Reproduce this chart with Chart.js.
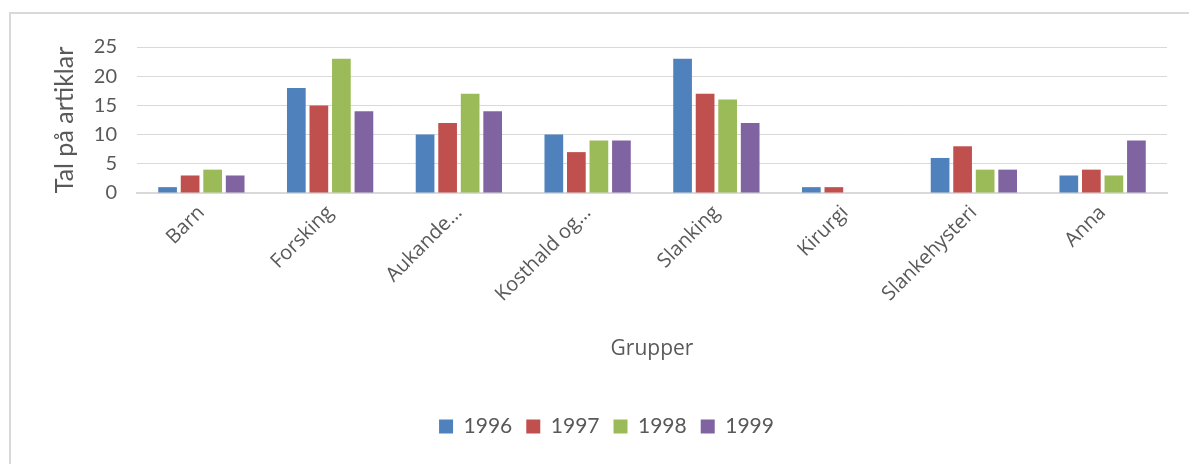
<!DOCTYPE html>
<html>
<head>
<meta charset="utf-8">
<script src="https://cdn.jsdelivr.net/npm/chart.js@4/dist/chart.umd.min.js"></script>
<style>
  html, body { margin: 0; padding: 0; background: #fff; }
  #wrap { position: relative; width: 1189px; height: 464px; }
  #frame { position: absolute; left: 9px; top: 12px; right: -5px; bottom: -5px;
           border-left: 2px solid #d9d9d9; border-top: 2px solid #d9d9d9; }
  canvas { position: absolute; left: 0; top: 0; }
</style>
</head>
<body>
<div id="wrap">
  <div id="frame"></div>
  <canvas id="chart" width="1189" height="464"></canvas>
</div>
<script>
// Kategoriar og verdiar lesne av biletet
const groups = ['Barn', 'Forsking', 'Aukande…', 'Kosthald og…', 'Slanking', 'Kirurgi', 'Slankehysteri', 'Anna'];
const years = ['1996', '1997', '1998', '1999'];
const v1996 = [1, 18, 10, 10, 23, 1, 6, 3];
const v1997 = [3, 15, 12, 7, 17, 1, 8, 4];
const v1998 = [4, 23, 17, 9, 16, 0, 4, 3];
const v1999 = [3, 14, 14, 9, 12, 0, 4, 9];
const yMax = 25;
const yStep = 5;

const colors = ['#4f81bd', '#c0504d', '#9bbb59', '#8064a2'];
const series = [v1996, v1997, v1998, v1999];

const ctx = document.getElementById('chart').getContext('2d');
new Chart(ctx, {
    type: 'bar',
    data: {
        labels: groups,
        datasets: series.map((vals, i) => ({
            label: years[i],
            data: vals,
            backgroundColor: colors[i],
            borderWidth: 0,
            categoryPercentage: 0.7,
            barPercentage: 0.83
        }))
    },
    options: {
        responsive: false,
        animation: false,
        layout: { padding: { left: 46, right: 22, top: 47, bottom: 17 } },
        scales: {
            x: {
                grid: { display: false, drawTicks: false },
                border: { display: true, color: '#d9d9d9', width: 2 },
                ticks: {
                    minRotation: 45,
                    maxRotation: 45,
                    autoSkip: false,
                    padding: 8,
                    color: '#595959',
                    font: { family: 'Open Sans', size: 20 }
                },
                title: {
                    display: true,
                    text: 'Grupper',
                    color: '#595959',
                    font: { family: 'Open Sans', size: 21 },
                    padding: { top: 0, bottom: 40 }
                },
                afterFit: scale => { scale.height = 209; }
            },
            y: {
                min: 0,
                max: yMax,
                grid: { color: '#d9d9d9', lineWidth: 1, drawTicks: false },
                border: { display: false },
                ticks: {
                    stepSize: yStep,
                    autoSkip: false,
                    padding: 20,
                    color: '#595959',
                    font: { family: 'Lato', size: 20 }
                },
                title: {
                    display: true,
                    text: 'Tal på artiklar',
                    color: '#595959',
                    font: { family: 'Lato', size: 25 },
                    padding: { top: 4, bottom: 4 }
                },
                afterFit: scale => { scale.width = 91; }
            }
        },
        plugins: {
            legend: {
                position: 'bottom',
                labels: {
                    boxWidth: 14,
                    boxHeight: 14,
                    padding: 14,
                    color: '#595959',
                    font: { family: 'Lato', size: 21 }
                }
            },
            tooltip: { enabled: false }
        }
    }
});
</script>
</body>
</html>
